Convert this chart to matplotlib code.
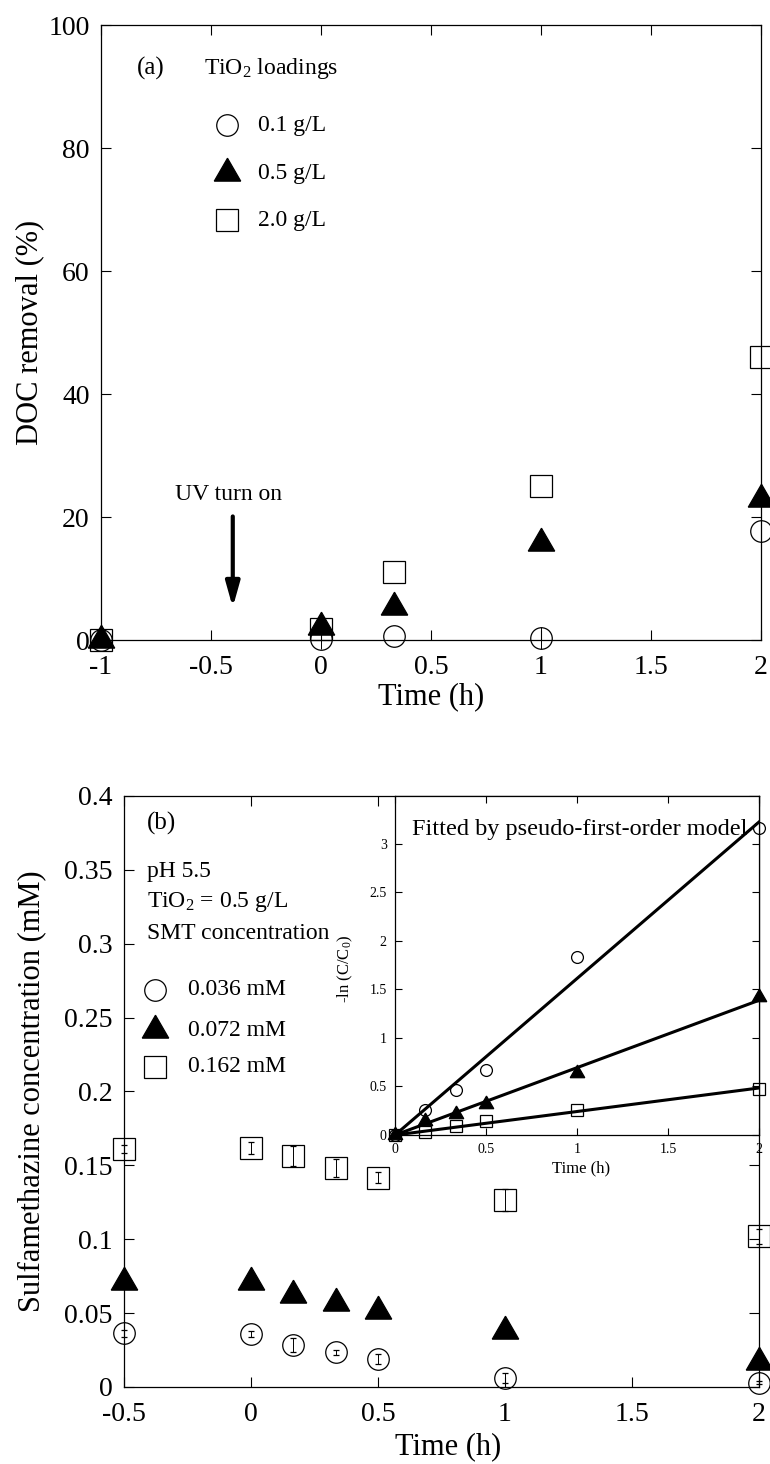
import numpy as np
import matplotlib
matplotlib.use("Agg")
import matplotlib.pyplot as plt
from matplotlib.ticker import MultipleLocator, FormatStrFormatter

plt.rcParams['font.family'] = ['Liberation Serif', 'DejaVu Serif']
plt.rcParams['mathtext.fontset'] = 'custom'
plt.rcParams['mathtext.rm'] = 'Liberation Serif'
plt.rcParams['mathtext.it'] = 'Liberation Serif:italic'
plt.rcParams['axes.unicode_minus'] = False

# (a) DOC removal vs time for three TiO2 loadings
time_a = [-1, 0, 1/3, 1, 2]
doc_01 = [0.0, 0.1, 0.7, 0.4, 17.8]
doc_05 = [0.0, 2.2, 5.4, 15.8, 22.9]
doc_20 = [0.0, 1.8, 11.1, 25.1, 46.1]
doc_01_err = [0.0, 1.5, 0.0, 1.8, 0.0]
loadings = ['0.1 g/L', '0.5 g/L', '2.0 g/L']

# (b) sulfamethazine concentration vs time
time_b = [-0.5, 0, 1/6, 1/3, 0.5, 1, 2]
smt_036 = [0.0363, 0.0360, 0.0284, 0.0234, 0.0190, 0.0063, 0.0030]
smt_072 = [0.0710, 0.0710, 0.0620, 0.0567, 0.0516, 0.0380, 0.0170]
smt_162 = [0.1610, 0.1620, 0.1563, 0.1480, 0.1417, 0.1264, 0.1020]
smt_036_err = [0.0023, 0.0020, 0.0045, 0.0017, 0.0034, 0.0034, 0.0010]
smt_072_err = [0.0020, 0.0020, 0.0040, 0.0020, 0.0020, 0.0020, 0.0020]
smt_162_err = [0.0025, 0.0040, 0.0070, 0.0060, 0.0037, 0.0073, 0.0050]
smt_labels = ['0.036 mM', '0.072 mM', '0.162 mM']

# inset: -ln(C/C0) vs time
time_k = [0, 1/6, 1/3, 0.5, 1, 2]
lnc_036 = [0, 0.26, 0.46, 0.67, 1.83, 3.16]
lnc_072 = [0, 0.14, 0.22, 0.32, 0.64, 1.42]
lnc_162 = [0, 0.03, 0.09, 0.14, 0.26, 0.47]

circ = dict(marker='o', ms=15.5, mfc='none', mec='k', mew=0.9, ls='none', clip_on=False)
tri = dict(marker=(3, 0, 0), ms=22, mfc='k', mec='k', mew=0.9, ls='none', clip_on=False)
sq = dict(marker='s', ms=15.5, mfc='none', mec='k', mew=0.9, ls='none', clip_on=False)
styles = [circ, tri, sq]


def style_axes(ax, size=20, length=7, xpad=11, ypad=8):
    for s in ax.spines.values():
        s.set_linewidth(0.9)
    ax.tick_params(direction='in', top=True, right=True, length=length,
                   width=0.8, labelsize=size)
    ax.tick_params(axis='x', pad=xpad)
    ax.tick_params(axis='y', pad=ypad)


fig = plt.figure(figsize=(7.7, 14.64), dpi=100)

# ---------- panel (a) ----------
ax1 = fig.add_axes([0.1308, 0.5628, 0.8575, 0.4201])
ax1.errorbar(time_a, doc_01, yerr=doc_01_err, elinewidth=0.7, capsize=0, ecolor='k', **circ)
ax1.plot(time_a, doc_05, **tri)
ax1.plot(time_a, doc_20, **sq)
ax1.set_xlim(-1, 2)
ax1.set_ylim(0, 100)
ax1.xaxis.set_major_locator(MultipleLocator(0.5))
ax1.yaxis.set_major_locator(MultipleLocator(20))
ax1.xaxis.set_major_formatter(FormatStrFormatter('%g'))
ax1.yaxis.set_major_formatter(FormatStrFormatter('%g'))
style_axes(ax1)
ax1.set_xlabel('Time (h)', fontsize=22)
ax1.set_ylabel('DOC removal (%)', fontsize=22)
ax1.xaxis.set_label_coords(0.5, -0.068)
ax1.yaxis.set_label_coords(-0.086, 0.5)

ax1.text(0.055, 0.930, '(a)', transform=ax1.transAxes, fontsize=18, va='center')
ax1.text(0.1567, 0.930, 'TiO$_\\mathregular{2}$ loadings', transform=ax1.transAxes,
         fontsize=17, va='center')
rows_a = [0.8374, 0.7593, 0.6829]
for st, lab, ry in zip(styles, loadings, rows_a):
    ax1.plot([0.191], [ry], transform=ax1.transAxes, **st)
    ax1.text(0.238, ry, lab, transform=ax1.transAxes, fontsize=17, va='center')

ax1.annotate('', xy=(-0.4, 5.3), xytext=(-0.4, 20.1),
             arrowprops=dict(arrowstyle='-|>,head_length=1.5,head_width=0.42',
                             lw=3, color='k', shrinkA=0, shrinkB=0))
ax1.text(-0.42, 23.7, 'UV turn on', fontsize=17, ha='center', va='center')

# ---------- panel (b) ----------
ax2 = fig.add_axes([0.1610, 0.0526, 0.8247, 0.4037])
for y, e, st in zip([smt_036, smt_072, smt_162],
                    [smt_036_err, smt_072_err, smt_162_err], styles):
    ax2.errorbar(time_b, y, yerr=e, elinewidth=0.7, capsize=2.5, capthick=0.7,
                 ecolor='k', **st)
ax2.set_xlim(-0.5, 2)
ax2.set_ylim(0, 0.4)
ax2.xaxis.set_major_locator(MultipleLocator(0.5))
ax2.yaxis.set_major_locator(MultipleLocator(0.05))
ax2.xaxis.set_major_formatter(FormatStrFormatter('%g'))
ax2.yaxis.set_major_formatter(FormatStrFormatter('%g'))
style_axes(ax2)
ax2.set_xlabel('Time (h)', fontsize=22)
ax2.set_ylabel('Sulfamethazine concentration (mM)', fontsize=22)
ax2.xaxis.set_label_coords(0.51, -0.076)
ax2.yaxis.set_label_coords(-0.123, 0.5)

ax2.text(0.0357, 0.954, '(b)', transform=ax2.transAxes, fontsize=18, va='center')
ax2.text(0.036, 0.872, 'pH 5.5', transform=ax2.transAxes, fontsize=17, va='center')
ax2.text(0.036, 0.821, 'TiO$_\\mathregular{2}$ = 0.5 g/L', transform=ax2.transAxes,
         fontsize=17, va='center')
ax2.text(0.036, 0.768, 'SMT concentration', transform=ax2.transAxes, fontsize=17, va='center')
rows_b = [0.672, 0.604, 0.542]
for st, lab, ry in zip(styles, smt_labels, rows_b):
    ax2.plot([0.049], [ry], transform=ax2.transAxes, **st)
    ax2.text(0.1008, ry, lab, transform=ax2.transAxes, fontsize=17, va='center')

# ---------- inset ----------
ax3 = fig.add_axes([0.5130, 0.2247, 0.4727, 0.2316])
ax3.set_facecolor('white')
small = [dict(st, ms=st['ms'] * 0.55) for st in styles]
tk = np.array(time_k)
for y, st in zip([lnc_036, lnc_072, lnc_162], small):
    y = np.array(y)
    k = np.sum(tk * y) / np.sum(tk * tk)
    ax3.plot([0, 2], [0, 2 * k], color='k', lw=2.2)
    ax3.plot(tk, y, **st)
ax3.set_xlim(0, 2)
ax3.set_ylim(0, 3.49)
ax3.xaxis.set_major_locator(MultipleLocator(0.5))
ax3.yaxis.set_major_locator(MultipleLocator(0.5))
ax3.xaxis.set_major_formatter(FormatStrFormatter('%g'))
ax3.yaxis.set_major_formatter(FormatStrFormatter('%g'))
style_axes(ax3, size=10, length=5, xpad=6, ypad=6)
ax3.set_xlabel('Time (h)', fontsize=12)
ax3.set_ylabel('-ln (C/C$_\\mathregular{0}$)', fontsize=12)
ax3.xaxis.set_label_coords(0.51, -0.074)
ax3.yaxis.set_label_coords(-0.11, 0.49)
ax3.text(0.046, 0.90, 'Fitted by pseudo-first-order model', transform=ax3.transAxes,
         fontsize=17.5, va='center')

fig.savefig('out.png', dpi=100)
